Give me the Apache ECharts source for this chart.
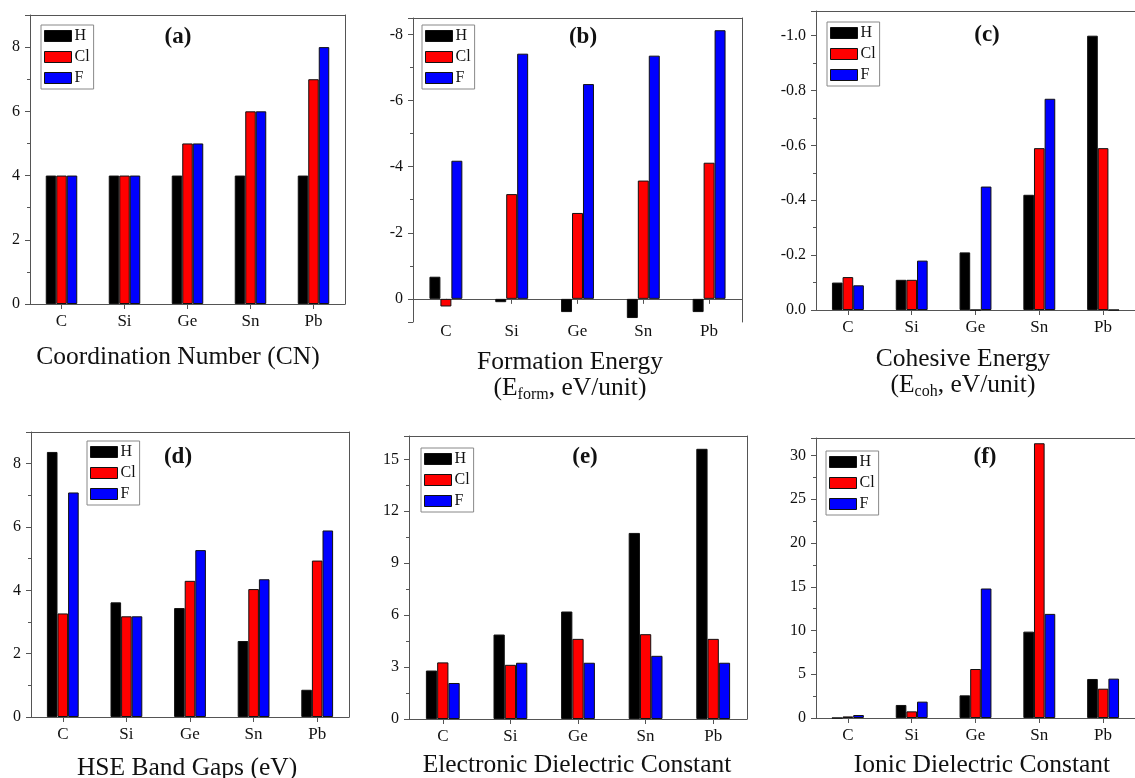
<!DOCTYPE html>
<html><head><meta charset="utf-8">
<script src="https://cdn.jsdelivr.net/npm/echarts@6/dist/echarts.min.js"></script>
<style>html,body{margin:0;padding:0;background:#fff}#c{width:1135px;height:778px}</style>
</head><body><div id="c"></div>
<script>
// ---- data ----
const categories = ['C', 'Si', 'Ge', 'Sn', 'Pb'];
const seriesNames = ['H', 'Cl', 'F'];

const cnH = [4, 4, 4, 4, 4];
const cnCl = [4, 4, 5, 6, 7];
const cnF = [4, 4, 5, 6, 8];

const formH = [-0.67, 0.1, 0.4, 0.58, 0.4];
const formCl = [0.23, -3.17, -2.6, -3.58, -4.12];
const formF = [-4.18, -7.42, -6.5, -7.36, -8.13];

const cohH = [-0.10, -0.11, -0.21, -0.42, -1.0];
const cohCl = [-0.12, -0.11, 0, -0.59, -0.59];
const cohF = [-0.09, -0.18, -0.45, -0.77, 0];

const gapH = [8.37, 3.62, 3.44, 2.40, 0.86];
const gapCl = [3.27, 3.18, 4.30, 4.04, 4.94];
const gapF = [7.09, 3.18, 5.27, 4.35, 5.89];

const eleH = [2.80, 4.88, 6.21, 10.75, 15.61];
const eleCl = [3.27, 3.13, 4.63, 4.90, 4.63];
const eleF = [2.08, 3.25, 3.25, 3.65, 3.25];

const ionH = [0, 1.49, 2.59, 9.87, 4.46];
const ionCl = [0.18, 0.76, 5.6, 31.4, 3.35];
const ionF = [0.34, 1.87, 14.8, 11.9, 4.5];

const panelTags = ['(a)', '(b)', '(c)', '(d)', '(e)', '(f)'];

// ---- layout / styles ----
const FONT = 'Liberation Serif';
const AX = '#555';
const colors = ['#000000', '#ff0000', '#0000ff'];

const panels = [
  { vals: [cnH, cnCl, cnF], grid: { left: 30, top: 15, width: 315, height: 289 },
    y: { min: 0, max: 9, interval: 2 }, hideMin: false, hideMax: true,
    legend: { left: 41, top: 25 }, tag: [178, 37] },
  { vals: [formH, formCl, formF], grid: { left: 413, top: 18, width: 329, height: 304 },
    y: { min: -8.5, max: 0.7, inverse: true }, hideMin: true, hideMax: true, zeroAxis: true,
    legend: { left: 422, top: 25 }, tag: [583, 37] },
  { vals: [cohH, cohCl, cohF], grid: { left: 816, top: 11, width: 324, height: 299 },
    y: { min: -1.09, max: 0, inverse: true }, hideMin: true, hideMax: false,
    fmt: v => v.toFixed(1), legend: { left: 827, top: 22 }, tag: [987, 35] },
  { vals: [gapH, gapCl, gapF], grid: { left: 31, top: 432, width: 318, height: 285 },
    y: { min: 0, max: 9, interval: 2 }, hideMin: false, hideMax: true,
    legend: { left: 87, top: 441 }, tag: [178, 457] },
  { vals: [eleH, eleCl, eleF], grid: { left: 409, top: 436, width: 338, height: 283 },
    y: { min: 0, max: 16.35, interval: 3 }, hideMin: false, hideMax: true,
    legend: { left: 421, top: 448 }, tag: [585, 457] },
  { vals: [ionH, ionCl, ionF], grid: { left: 816, top: 438, width: 328, height: 280 },
    y: { min: 0, max: 32, interval: 5 }, hideMin: false, hideMax: true,
    legend: { left: 826, top: 451 }, tag: [985, 457] }
];

const grid = [], xAxis = [], yAxis = [], series = [], legend = [], graphic = [];

panels.forEach((p, i) => {
  grid.push(Object.assign({ containLabel: false }, p.grid));
  // bottom category axis
  xAxis.push({
    gridIndex: i, type: 'category', data: categories, position: 'bottom',
    axisLine: { show: true, onZero: !!p.zeroAxis, onZeroAxisIndex: 2 * i, lineStyle: { color: AX, width: 1 } },
    axisTick: { show: true, alignWithLabel: true, length: 5, lineStyle: { color: AX } },
    axisLabel: { margin: p.zeroAxis ? 1 : 9, fontFamily: FONT, fontSize: 17, color: '#111' },
    splitLine: { show: false }
  });
  // top frame line
  xAxis.push({
    gridIndex: i, type: 'category', data: categories, position: 'top',
    axisLine: { show: true, onZero: false, lineStyle: { color: AX, width: 1 } },
    axisTick: { show: false }, axisLabel: { show: false }, splitLine: { show: false }
  });
  const ya = {
    gridIndex: i, type: 'value', position: 'left',
    min: p.y.min, max: p.y.max, inverse: !!p.y.inverse,
    axisLine: { show: true, onZero: false, lineStyle: { color: AX, width: 1 } },
    axisTick: { show: true, length: 5, lineStyle: { color: AX } },
    minorTick: { show: true, splitNumber: 2, length: 3, lineStyle: { color: AX } },
    splitLine: { show: false }, minorSplitLine: { show: false },
    axisLabel: { margin: 10, fontFamily: FONT, fontSize: 16, color: '#111',
      showMinLabel: !p.hideMin, showMaxLabel: !p.hideMax }
  };
  if (p.y.interval) ya.interval = p.y.interval;
  if (p.fmt) ya.axisLabel.formatter = p.fmt;
  yAxis.push(ya);
  yAxis.push({
    gridIndex: i, type: 'value', position: 'right', min: 0, max: 1,
    axisLine: { show: true, onZero: false, lineStyle: { color: AX, width: 1 } },
    axisTick: { show: false }, axisLabel: { show: false }, splitLine: { show: false }
  });
  seriesNames.forEach((name, k) => {
    series.push({
      type: 'bar', name, xAxisIndex: 2 * i, yAxisIndex: 2 * i,
      data: p.vals[k], barGap: '0%', barCategoryGap: '50%',
      itemStyle: { color: colors[k], borderColor: '#111', borderWidth: 1 },
      emphasis: { disabled: true }, animation: false
    });
  });
  legend.push({
    orient: 'vertical', left: p.legend.left, top: p.legend.top,
    data: seriesNames, icon: 'rect', itemWidth: 27, itemHeight: 11, itemGap: 5,
    padding: [3, 4, 3, 3], backgroundColor: '#fff', borderColor: '#888', borderWidth: 1,
    borderRadius: 0, selectedMode: false,
    itemStyle: { borderColor: '#111', borderWidth: 1 },
    textStyle: { fontFamily: FONT, fontSize: 16, color: '#111', padding: [0, 0, 0, -2] }
  });
  graphic.push({
    type: 'text', x: p.tag[0], y: p.tag[1],
    style: { text: panelTags[i], font: 'bold 23px "' + FONT + '"', fill: '#111', align: 'center', verticalAlign: 'middle' }
  });
});

const titleFont = '25.5px "' + FONT + '"';
const subRich = { s: { fontFamily: FONT, fontSize: 16, verticalAlign: 'bottom', lineHeight: 30, fill: '#111' },
                  m: { fontFamily: FONT, fontSize: 25.5, lineHeight: 30, fill: '#111' } };
const titles = [
  [178, 357, 'Coordination Number (CN)'],
  [570, 362, 'Formation Energy'],
  [963, 359, 'Cohesive Energy'],
  [187, 768, 'HSE Band Gaps (eV)'],
  [577, 765, 'Electronic Dielectric Constant'],
  [982, 765, 'Ionic Dielectric Constant']
];
titles.forEach(t => graphic.push({
  type: 'text', x: t[0], y: t[1],
  style: { text: t[2], font: titleFont, fill: '#111', align: 'center', verticalAlign: 'middle' }
}));
graphic.push({ type: 'text', x: 570, y: 388,
  style: { text: '{m|(E}{s|form}{m|, eV/unit)}', rich: subRich, align: 'center', verticalAlign: 'middle' } });
graphic.push({ type: 'text', x: 963, y: 385,
  style: { text: '{m|(E}{s|coh}{m|, eV/unit)}', rich: subRich, align: 'center', verticalAlign: 'middle' } });

const chart = echarts.init(document.getElementById('c'), null, { renderer: 'canvas' });
chart.setOption({ animation: false, backgroundColor: '#fff', grid, xAxis, yAxis, series, legend, graphic });
</script></body></html>
